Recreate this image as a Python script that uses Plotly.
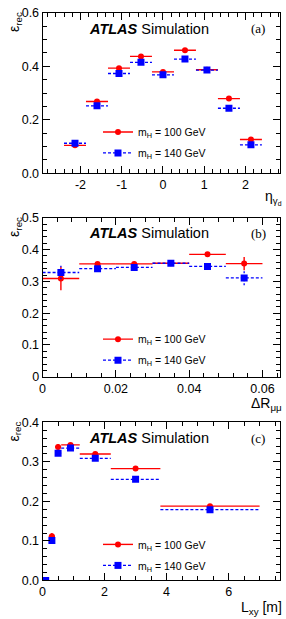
import plotly.graph_objects as go

# ---------------- data ----------------
# (a) efficiency vs eta_gamma_d
eta_lo = [-2.4, -1.867, -1.333, -0.8, -0.267, 0.267, 0.8, 1.333, 1.867]
eta_hi = [-1.867, -1.333, -0.8, -0.267, 0.267, 0.8, 1.333, 1.867, 2.4]
eta_m100 = [0.104, 0.268, 0.393, 0.437, 0.379, 0.460, 0.387, 0.279, 0.126]
eta_m100_err = [0.006, 0.006, 0.006, 0.006, 0.006, 0.006, 0.006, 0.006, 0.006]
eta_m140 = [0.112, 0.252, 0.373, 0.415, 0.368, 0.427, 0.386, 0.243, 0.106]
eta_m140_err = [0.006, 0.006, 0.006, 0.006, 0.006, 0.006, 0.006, 0.006, 0.006]

# (b) efficiency vs Delta R_mumu
dr_lo = [0.0, 0.01, 0.02, 0.03, 0.04, 0.05]
dr_hi = [0.01, 0.02, 0.03, 0.04, 0.05, 0.06]
dr_m100 = [0.309, 0.355, 0.355, 0.357, 0.385, 0.356]
dr_m100_err = [0.037, 0.006, 0.006, 0.005, 0.007, 0.021]
dr_m140 = [0.328, 0.340, 0.344, 0.357, 0.347, 0.311]
dr_m140_err = [0.021, 0.006, 0.006, 0.005, 0.007, 0.023]

# (c) efficiency vs L_xy [m]
lxy_lo = [0.0, 0.2, 0.4, 0.6, 1.2, 2.2, 3.8]
lxy_hi = [0.2, 0.4, 0.6, 1.2, 2.2, 3.8, 7.0]
lxy_m100 = [0.0, 0.112, 0.338, 0.343, 0.320, 0.283, 0.188]
lxy_m100_err = [0.0, 0.008, 0.007, 0.005, 0.005, 0.004, 0.004]
lxy_m140 = [0.0, 0.101, 0.322, 0.335, 0.309, 0.256, 0.179]
lxy_m140_err = [0.0, 0.007, 0.007, 0.005, 0.005, 0.004, 0.004]

series_names = ["m<sub>H</sub> = 100 GeV", "m<sub>H</sub> = 140 GeV"]
panel_tags = ["(a)", "(b)", "(c)"]
xtitles = ["η<sub>γ<sub>d</sub></sub>", "ΔR<sub>μμ</sub>", "L<sub>xy</sub> [m]"]

RED = "#ff0000"
BLUE = "#0000ff"
FONT = "Liberation Sans, Arial, sans-serif"
W, H = 286, 619

# panel geometry in pixels (left, right, top, bottom)
XL, XR = 40, 280
panels_px = [(6, 170), (215.7, 378.3), (425, 586.7)]
xtitle_offsets = [13, 17, 17]

fig = go.Figure()


def px2x(p):
    return p / W


def px2y(p):
    return 1 - p / H


def add_panel(i, lo, hi, v100, e100, v140, e140):
    xa = "x" if i == 0 else f"x{i+1}"
    ya = "y" if i == 0 else f"y{i+1}"
    leg = "legend" if i == 0 else f"legend{i+1}"
    c = [(a + b) / 2 for a, b in zip(lo, hi)]
    hw = [(b - a) / 2 for a, b in zip(lo, hi)]
    # red: solid error bars
    fig.add_trace(go.Scatter(
        x=c, y=v100, mode="markers", xaxis=xa, yaxis=ya, showlegend=False,
        marker=dict(symbol="circle", size=6, color=RED),
        error_x=dict(type="data", array=hw, color=RED, thickness=1.4, width=0),
        error_y=dict(type="data", array=e100, color=RED, thickness=1.4, width=0),
    ))
    # blue: dashed error bars
    hx, hy, vx, vy = [], [], [], []
    for a, b, cc, v, e in zip(lo, hi, c, v140, e140):
        hx += [a, b, None]
        hy += [v, v, None]
        vx += [cc, cc, None]
        vy += [v - e, v + e, None]
    fig.add_trace(go.Scatter(x=hx, y=hy, mode="lines", xaxis=xa, yaxis=ya, showlegend=False,
                             line=dict(color=BLUE, width=1.3, dash="3px,2px")))
    fig.add_trace(go.Scatter(x=vx, y=vy, mode="lines", xaxis=xa, yaxis=ya, showlegend=False,
                             line=dict(color=BLUE, width=1.3, dash="2px,2px")))
    fig.add_trace(go.Scatter(
        x=c, y=v140, mode="markers", xaxis=xa, yaxis=ya, showlegend=False,
        marker=dict(symbol="square", size=7, color=BLUE),
    ))
    # legend entries
    fig.add_trace(go.Scatter(x=[None], y=[None], mode="lines+markers", xaxis=xa, yaxis=ya,
                             name=series_names[0], legend=leg, legendgroup=f"r{i}",
                             marker=dict(symbol="circle", size=6, color=RED),
                             line=dict(color=RED, width=1.4)))
    fig.add_trace(go.Scatter(x=[None], y=[None], mode="lines+markers", xaxis=xa, yaxis=ya,
                             name=series_names[1], legend=leg, legendgroup=f"b{i}",
                             marker=dict(symbol="square", size=7, color=BLUE),
                             line=dict(color=BLUE, width=1.3, dash="3px,2px")))


add_panel(0, eta_lo, eta_hi, eta_m100, eta_m100_err, eta_m140, eta_m140_err)
add_panel(1, dr_lo, dr_hi, dr_m100, dr_m100_err, dr_m140, dr_m140_err)
add_panel(2, lxy_lo, lxy_hi, lxy_m100, lxy_m100_err, lxy_m140, lxy_m140_err)

axis_common = dict(showline=True, linecolor="black", linewidth=1, mirror="ticks",
                   ticks="inside", ticklen=7, tickcolor="black", tickwidth=1,
                   showgrid=False, zeroline=False,
                   tickfont=dict(family=FONT, size=12.5, color="black"))

xcfg = [
    dict(range=[-2.92, 2.84], tickvals=[-2, -1, 0, 1, 2], ticktext=["-2", "-1", "0", "1", "2"],
         minor=dict(dtick=0.2, tick0=0, ticklen=4, ticks="inside", tickcolor="black")),
    dict(range=[0, 0.0648], dtick=0.02, tick0=0,
         minor=dict(dtick=0.004, tick0=0, ticklen=4, ticks="inside", tickcolor="black")),
    dict(range=[0, 7.66], dtick=2, tick0=0,
         minor=dict(dtick=0.5, tick0=0, ticklen=4, ticks="inside", tickcolor="black")),
]
ycfg = [
    dict(range=[0, 0.6], dtick=0.2, tick0=0, tickformat=".1f",
         minor=dict(dtick=0.05, tick0=0, ticklen=4, ticks="inside", tickcolor="black")),
    dict(range=[0, 0.5], dtick=0.1, tick0=0,
         minor=dict(dtick=0.02, tick0=0, ticklen=4, ticks="inside", tickcolor="black")),
    dict(range=[0, 0.4], dtick=0.1, tick0=0, tickformat=".1f",
         minor=dict(dtick=0.02, tick0=0, ticklen=4, ticks="inside", tickcolor="black")),
]

layout = dict(width=W, height=H, margin=dict(l=0, r=0, t=0, b=0),
              paper_bgcolor="white", plot_bgcolor="white", showlegend=True)
annotations = []
# legend positions (top of first entry) in px
legend_tops = [113, 325, 535]
for i, (top, bot) in enumerate(panels_px):
    sfx = "" if i == 0 else str(i + 1)
    layout["xaxis" + sfx] = dict(domain=[px2x(XL), px2x(XR)], anchor="y" + sfx, **axis_common, **xcfg[i])
    layout["yaxis" + sfx] = dict(domain=[px2y(bot), px2y(top)], anchor="x" + sfx, **axis_common, **ycfg[i])
    layout["legend" + sfx] = dict(x=px2x(96), y=px2y(legend_tops[i]), xanchor="left", yanchor="top",
                                  bgcolor="rgba(0,0,0,0)", font=dict(family=FONT, size=10.5, color="black"),
                                  traceorder="grouped", tracegroupgap=2, itemwidth=30)
    # ATLAS label
    annotations.append(dict(text="<b><i>ATLAS</i></b> Simulation", x=px2x(85), y=px2y(top + 16),
                            xref="paper", yref="paper", xanchor="left", yanchor="middle", showarrow=False,
                            font=dict(family=FONT, size=14.5, color="black")))
    annotations.append(dict(text=panel_tags[i], x=px2x(258), y=px2y(top + 16),
                            xref="paper", yref="paper", xanchor="center", yanchor="middle", showarrow=False,
                            font=dict(family="Liberation Serif, Times New Roman, serif", size=13, color="black")))
    # axis titles
    annotations.append(dict(text=xtitles[i], x=px2x(284), y=px2y(bot + xtitle_offsets[i]),
                            xref="paper", yref="paper",
                            xanchor="right", yanchor="top", showarrow=False,
                            font=dict(family=FONT, size=14, color="black")))
    annotations.append(dict(text="ε<sub>rec</sub>", x=px2x(1), y=px2y(top - 3), xref="paper", yref="paper",
                            xanchor="left", yanchor="top", showarrow=False, textangle=-90,
                            font=dict(family=FONT, size=14, color="black")))
layout["annotations"] = annotations
fig.update_layout(**layout)

fig.write_html("out.html")
